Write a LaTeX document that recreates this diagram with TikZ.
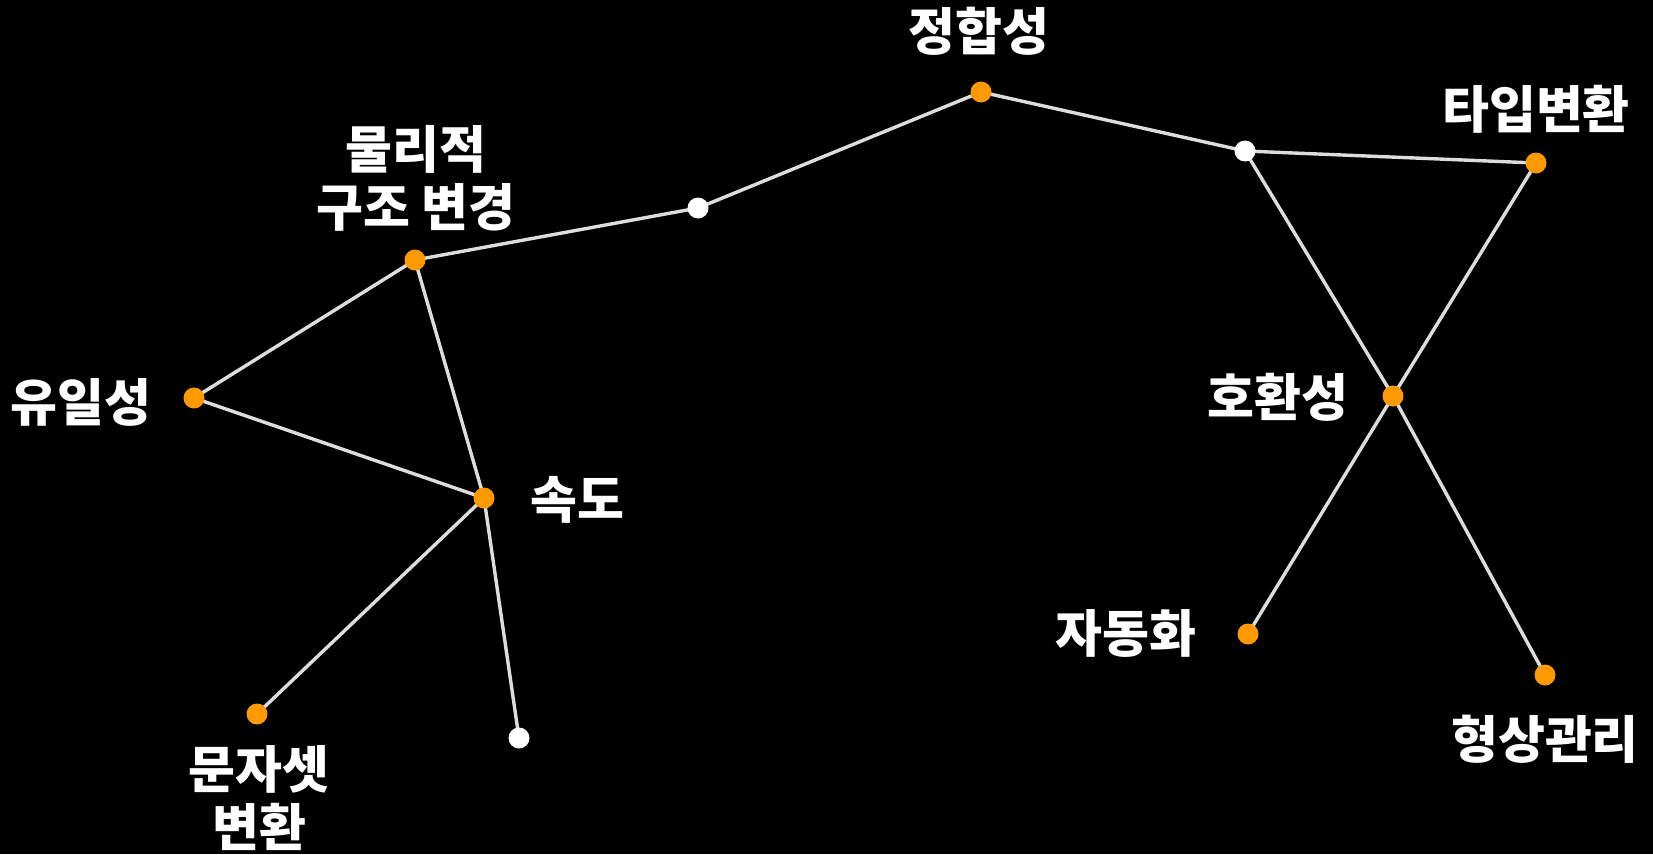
\documentclass[tikz,border=0pt]{standalone}
\usepackage{fontspec}
\newfontfamily\kr{Noto Sans CJK KR}
\definecolor{dotorange}{HTML}{FF9900}
\definecolor{edgegray}{HTML}{DDDDDD}
\tikzset{
  edge/.style={draw=edgegray, line width=3.4pt},
  odot/.style={circle, fill=dotorange, draw=none, minimum size=21pt, inner sep=0pt},
  wdot/.style={circle, fill=white, draw=none, minimum size=21pt, inner sep=0pt},
  lbl/.style={text=white, font=\kr\bfseries\fontsize{51}{58}\selectfont, inner sep=0pt, align=center},
}
\begin{document}
\begin{tikzpicture}[x=1pt,y=-1pt]
\fill[black] (0,0) rectangle (1653,854);
\useasboundingbox (0,0) rectangle (1653,854);
% dot coordinates
\coordinate (jh) at (981,92);
\coordinate (w1) at (698,208);
\coordinate (mr) at (415,260);
\coordinate (ui) at (194,398);
\coordinate (sd) at (484,498);
\coordinate (mj) at (257,714);
\coordinate (w2) at (519,738);
\coordinate (w3) at (1245,151);
\coordinate (tb) at (1536,163);
\coordinate (hh) at (1393,396);
\coordinate (jd) at (1248,634);
\coordinate (hs) at (1545,675);
% edges
\draw[edge] (mr) -- (w1) -- (jh) -- (w3) -- (tb);
\draw[edge] (mr) -- (ui) -- (sd);
\draw[edge] (mr) -- (sd);
\draw[edge] (sd) -- (mj);
\draw[edge] (sd) -- (w2);
\draw[edge] (w3) -- (hh);
\draw[edge] (tb) -- (hh);
\draw[edge] (hh) -- (jd);
\draw[edge] (hh) -- (hs);
% dots on top
\node[odot] (njh) at (jh) {};
\node[wdot] (nw1) at (w1) {};
\node[odot] (nmr) at (mr) {};
\node[odot] (nui) at (ui) {};
\node[odot] (nsd) at (sd) {};
\node[odot] (nmj) at (mj) {};
\node[wdot] (nw2) at (w2) {};
\node[wdot] (nw3) at (w3) {};
\node[odot] (ntb) at (tb) {};
\node[odot] (nhh) at (hh) {};
\node[odot] (njd) at (jd) {};
\node[odot] (nhs) at (hs) {};
% labels
\node[lbl] (l1) at (979,31) {정합성};
\node[lbl] (l2) at (416,178) {물리적\\구조 변경};
\node[lbl] (l3) at (81,402) {유일성};
\node[lbl] (l4) at (577,500) {속도};
\node[lbl] (l5) at (259,798) {문자셋\\변환};
\node[lbl] (l6) at (1536,109) {타입변환};
\node[lbl] (l7) at (1278,397) {호환성};
\node[lbl] (l8) at (1126,633) {자동화};
\node[lbl] (l9) at (1545,739) {형상관리};
\end{tikzpicture}
\end{document}
